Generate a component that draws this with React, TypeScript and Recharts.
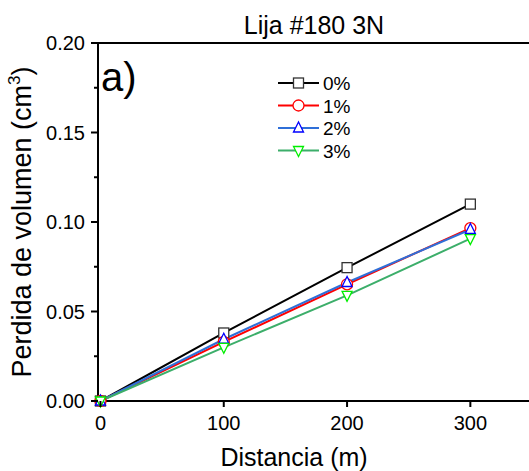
import React from 'react';
import { LineChart, Line, XAxis, YAxis } from 'recharts';

const distances = [0, 100, 200, 300];
const loss0 = [0, 0.038, 0.0745, 0.11];
const loss1 = [0, 0.033, 0.0652, 0.0966];
const loss2 = [0, 0.0345, 0.0662, 0.0958];
const loss3 = [0, 0.03, 0.059, 0.0907];
const yTicks = [0, 0.025, 0.05, 0.075, 0.1, 0.125, 0.15, 0.175, 0.2];
const xTicks = [0, 100, 200, 300];

const data = distances.map((d, i) => ({
  d,
  s0: loss0[i],
  s1: loss1[i],
  s2: loss2[i],
  s3: loss3[i],
}));

type Kind = 'square' | 'circle' | 'up' | 'down';

const Marker = ({ kind, cx, cy, color }: { kind: Kind; cx: number; cy: number; color: string }) => {
  const r = 5;
  if (kind === 'square')
    return <rect x={cx - r} y={cy - r} width={2 * r} height={2 * r} fill="#fff" stroke={color} strokeWidth={1.3} />;
  if (kind === 'circle') return <circle cx={cx} cy={cy} r={r + 0.5} fill="#fff" stroke={color} strokeWidth={1.3} />;
  if (kind === 'up')
    return (
      <polygon
        points={`${cx},${cy - r - 1} ${cx - r},${cy + r - 1} ${cx + r},${cy + r - 1}`}
        fill="#fff"
        stroke={color}
        strokeWidth={1.3}
      />
    );
  return (
    <polygon
      points={`${cx},${cy + r + 1} ${cx - r},${cy - r + 1} ${cx + r},${cy - r + 1}`}
      fill="#fff"
      stroke={color}
      strokeWidth={1.3}
    />
  );
};

const series = [
  { key: 's0', name: '0%', line: '#000000', mark: '#333333', kind: 'square' as Kind },
  { key: 's1', name: '1%', line: '#ff0000', mark: '#ff0000', kind: 'circle' as Kind },
  { key: 's2', name: '2%', line: '#2f6fd8', mark: '#0000ff', kind: 'up' as Kind },
  { key: 's3', name: '3%', line: '#3cae6a', mark: '#00ee00', kind: 'down' as Kind },
];

const font = 'Liberation Sans, Arial, sans-serif';

const YTick = (props: any) => {
  const { x, y, payload } = props;
  const major = Math.round(payload.value * 1000) % 50 === 0;
  return (
    <g>
      <line x1={x - (major ? 7 : 4)} x2={x} y1={y} y2={y} stroke="#000" strokeWidth={2} />
      {major && (
        <text x={x - 13} y={y} dy={7} textAnchor="end" fontSize={20} fill="#000" fontFamily={font}>
          {payload.value.toFixed(2)}
        </text>
      )}
    </g>
  );
};

const XTick = (props: any) => {
  const { x, y, payload } = props;
  return (
    <g>
      <line x1={x} x2={x} y1={y} y2={y + 6} stroke="#000" strokeWidth={2} />
      <text x={x} y={y + 29} textAnchor="middle" fontSize={20} fill="#000" fontFamily={font}>
        {payload.value}
      </text>
    </g>
  );
};

export default function App() {
  return (
    <div style={{ position: 'absolute', left: 0, top: 0, width: 529, height: 471, overflow: 'hidden', background: '#fff' }}>
      <LineChart width={540} height={471} data={data} margin={{ top: 42, right: 8, bottom: 30, left: 38 }}>
        <XAxis
          xAxisId="top"
          orientation="top"
          dataKey="d"
          type="number"
          domain={[-2, 350]}
          height={1}
          tick={false}
          tickLine={false}
          axisLine={{ stroke: '#000', strokeWidth: 2 }}
        />
        <XAxis
          dataKey="d"
          type="number"
          domain={[-2, 350]}
          ticks={xTicks}
          height={40}
          tickSize={0}
          tickMargin={0}
          tickLine={false}
          tick={<XTick />}
          axisLine={{ stroke: '#000', strokeWidth: 2 }}
        />
        <YAxis
          type="number"
          domain={[0, 0.2]}
          ticks={yTicks}
          width={60}
          tickSize={0}
          tickMargin={0}
          tickLine={false}
          tick={<YTick />}
          axisLine={{ stroke: '#000', strokeWidth: 2 }}
        />
        {series.map((s) => (
          <Line
            key={s.key}
            dataKey={s.key}
            stroke={s.line}
            strokeWidth={2}
            isAnimationActive={false}
            dot={(p: any) => <Marker key={`${s.key}-${p.index}`} kind={s.kind} cx={p.cx} cy={p.cy} color={s.mark} />}
            activeDot={false}
          />
        ))}
        <text x={314} y={34} textAnchor="middle" fontSize={25} fontFamily={font} fill="#000">
          Lija #180 3N
        </text>
        <text x={101} y={91} fontSize={40} fontFamily={font} fill="#000">
          a)
        </text>
        <text x={294} y={466} textAnchor="middle" fontSize={25} fontFamily={font} fill="#000">
          Distancia (m)
        </text>
        <text
          transform="translate(31 222) rotate(-90)"
          textAnchor="middle"
          fontSize={27}
          fontFamily={font}
          fill="#000"
        >
          Perdida de volumen (cm
          <tspan dy={-11} fontSize={17}>3</tspan>
          <tspan dy={11}>)</tspan>
        </text>
        {series.map((s, i) => {
          const y = 83 + i * 22.5;
          return (
            <g key={`leg-${s.key}`}>
              <line x1={278} x2={319} y1={y} y2={y} stroke={s.line} strokeWidth={2} />
              <Marker kind={s.kind} cx={298.5} cy={y} color={s.mark} />
              <text x={323} y={y} dy={7} fontSize={19} fontFamily={font} fill="#000">
                {s.name}
              </text>
            </g>
          );
        })}
      </LineChart>
    </div>
  );
}
